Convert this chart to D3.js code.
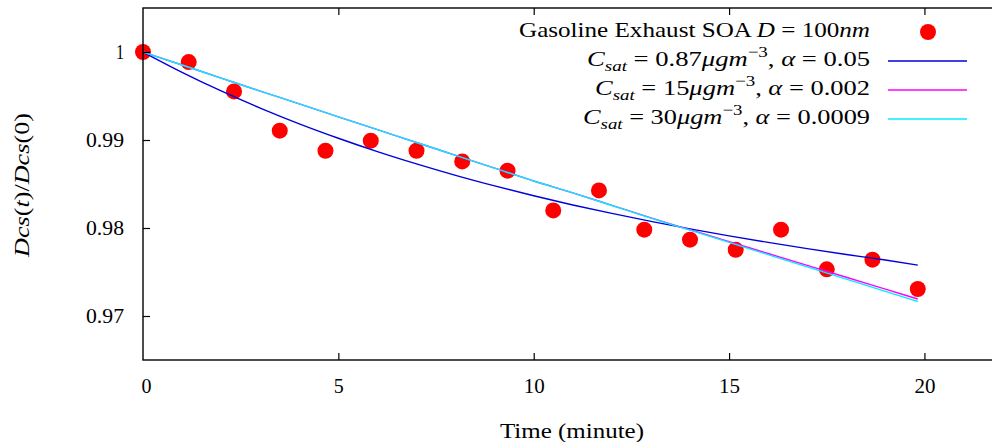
<!DOCTYPE html>
<html>
<head>
<meta charset="utf-8">
<script src="https://cdn.jsdelivr.net/npm/d3@7"></script>
<style>
  html, body { margin: 0; padding: 0; background: #fff; }
  svg { display: block; }
  text { font-family: "Liberation Serif", "DejaVu Serif", serif; fill: #000; }
</style>
</head>
<body>
<svg id="chart" width="992" height="442"></svg>
<script>
// ---- data ----
const obsTime = [0, 1.17, 2.33, 3.5, 4.67, 5.83, 7, 8.17, 9.33, 10.5, 11.67, 12.83, 14, 15.17, 16.33, 17.5, 18.67, 19.83];
const obsValue = [1.0, 0.99886, 0.99552, 0.99106, 0.98878, 0.98992, 0.98878, 0.98757, 0.98651, 0.9820, 0.98427, 0.97981, 0.97867, 0.97753, 0.97981, 0.97530, 0.97640, 0.97307];

const modelTime = [0, 1, 2, 3, 4, 5, 6, 7, 8, 9, 10, 11, 12, 13, 14, 15, 16, 17, 18, 19, 19.83];
const blueValue = [1.0, 0.99769, 0.99557, 0.99363, 0.99184, 0.99020, 0.98868, 0.98728, 0.98598, 0.98478, 0.98366, 0.98262, 0.98166, 0.98075, 0.97990, 0.97911, 0.97836, 0.97765, 0.97699, 0.97636, 0.97578];
const magentaValue = [1.0, 0.99852, 0.99704, 0.99556, 0.99410, 0.99263, 0.99117, 0.98972, 0.98826, 0.98680, 0.98534, 0.98400, 0.98258, 0.98115, 0.97980, 0.97845, 0.97710, 0.97575, 0.97440, 0.97305, 0.97193];
const cyanValue = [1.0, 0.99852, 0.99704, 0.99556, 0.99410, 0.99263, 0.99117, 0.98972, 0.98826, 0.98680, 0.98534, 0.98400, 0.98256, 0.98112, 0.97975, 0.97836, 0.97697, 0.97558, 0.97419, 0.97280, 0.97165];

const xTicks = [0, 5, 10, 15, 20];
const yTicks = [0.97, 0.98, 0.99, 1];
const xDomain = [0, 21.75];
const yDomain = [0.965, 1.005];

const xTitle = "Time (minute)";
const legendLabels = [
  "Gasoline Exhaust SOA D = 100nm",
  "C_sat = 0.87μgm^-3, α = 0.05",
  "C_sat = 15μgm^-3, α = 0.002",
  "C_sat = 30μgm^-3, α = 0.0009"
];
const seriesColors = ["#ff0000", "#0000dd", "#ff00ff", "#00eeff"];

// ---- layout ----
const svg = d3.select("#chart");
const L = 143, R = 992.8, T = 8, B = 360;
const x = d3.scaleLinear().domain(xDomain).range([L, R]);
const y = d3.scaleLinear().domain(yDomain).range([B, T]);
const FS = 21;

// markers
svg.append("g").selectAll("circle")
  .data(obsTime.map((t, i) => [t, obsValue[i]]))
  .join("circle")
  .attr("cx", d => x(d[0])).attr("cy", d => y(d[1]))
  .attr("r", 8).attr("fill", seriesColors[0]);

// model lines
const line = d3.line().x(d => x(d[0])).y(d => y(d[1])).curve(d3.curveMonotoneX);
[[blueValue, seriesColors[1]], [magentaValue, seriesColors[2]], [cyanValue, seriesColors[3]]].forEach(([vals, col]) => {
  svg.append("path")
    .datum(modelTime.map((t, i) => [t, vals[i]]))
    .attr("d", line).attr("fill", "none")
    .attr("stroke", col).attr("stroke-width", 1.4);
});

// frame
svg.append("rect").attr("x", L).attr("y", T).attr("width", R - L).attr("height", B - T)
  .attr("fill", "none").attr("stroke", "#000").attr("stroke-width", 1.4);

// axes (inward ticks)
const tickLen = 7;
const xAxisB = d3.axisBottom(x).tickValues(xTicks).tickSizeInner(-tickLen).tickSizeOuter(0).tickFormat(d3.format("d")).tickPadding(18);
const gxb = svg.append("g").attr("transform", `translate(0,${B})`).call(xAxisB);
const xAxisT = d3.axisTop(x).tickValues(xTicks).tickSizeInner(-tickLen).tickSizeOuter(0).tickFormat("");
const gxt = svg.append("g").attr("transform", `translate(0,${T})`).call(xAxisT);
const yAxisL = d3.axisLeft(y).tickValues(yTicks).tickSizeInner(-tickLen).tickSizeOuter(0)
  .tickFormat(d => d === 1 ? "1" : d3.format(".2f")(d)).tickPadding(19);
const gyl = svg.append("g").attr("transform", `translate(${L},0)`).call(yAxisL);
[gxb, gxt, gyl].forEach(g => {
  g.select(".domain").remove();
  g.selectAll("line").attr("stroke", "#000").attr("stroke-width", 1.2);
  g.selectAll("text").attr("font-family", "Liberation Serif, serif").attr("font-size", FS).attr("fill", "#000");
});
gxb.selectAll(".tick text").attr("dy", null).attr("y", 33);
gxb.selectAll(".tick").filter(d => d === 0).select("text").attr("dx", 3);
gyl.selectAll(".tick text").each(function () {
  const n = this.textContent.length;
  d3.select(this).attr("textLength", n === 1 ? 8 : 38).attr("lengthAdjust", "spacingAndGlyphs");
});
gxb.selectAll(".tick text").each(function () {
  const n = this.textContent.length;
  d3.select(this).attr("textLength", n === 1 ? 10 : 21).attr("lengthAdjust", "spacingAndGlyphs");
});
gxb.selectAll(".tick").filter(d => d === 0).select("line").remove();
gxt.selectAll(".tick").filter(d => d === 0).select("line").remove();

// x title
svg.append("text").attr("x", 572).attr("y", 438).attr("text-anchor", "middle")
  .attr("font-size", FS).attr("textLength", 144).attr("lengthAdjust", "spacingAndGlyphs").text(xTitle);

// y title (rotated, math italics)
const yt = svg.append("text").attr("transform", "translate(29,185) rotate(-90)")
  .attr("text-anchor", "middle").attr("font-size", FS)
  .attr("textLength", 144).attr("lengthAdjust", "spacingAndGlyphs");
[["Dcs", true], ["(", false], ["t", true], [")/", false], ["Dcs", true], ["(0)", false]].forEach(([s, it]) => {
  yt.append("tspan").attr("font-style", it ? "italic" : "normal").text(s);
});

// legend
const legX = 870, sampleX1 = 888, sampleX2 = 967, sampleMid = 928;
const rowBase = [37, 66, 95, 124];
const rowMid = [32, 61, 90, 119];
const rowWidth = [351, 283, 275, 287];

function mathText(g, label, yb, w) {
  const t = g.append("text").attr("x", legX - w).attr("y", yb).attr("font-size", FS)
    .attr("textLength", w).attr("lengthAdjust", "spacingAndGlyphs");
  if (label.startsWith("Gasoline")) {
    const m = label.match(/^(.*SOA )(D)( = 100)(nm)$/);
    t.append("tspan").text(m[1]);
    t.append("tspan").attr("font-style", "italic").text(m[2]);
    t.append("tspan").text(m[3]);
    t.append("tspan").attr("font-style", "italic").text(m[4]);
  } else {
    const m = label.match(/^C_sat = ([\d.]+)μgm\^-3, α = ([\d.]+)$/);
    t.append("tspan").attr("font-style", "italic").text("C");
    t.append("tspan").attr("font-style", "italic").attr("font-size", 15).attr("dy", 5).text("sat");
    t.append("tspan").attr("dy", -5).text(" = " + m[1]);
    t.append("tspan").attr("font-style", "italic").text("μgm");
    t.append("tspan").attr("font-size", 15).attr("dy", -9).text("−3");
    t.append("tspan").attr("dy", 9).text(", ");
    t.append("tspan").attr("font-style", "italic").text("α");
    t.append("tspan").text(" = " + m[2]);
  }
}
const lg = svg.append("g");
legendLabels.forEach((lab, i) => {
  mathText(lg, lab, rowBase[i], rowWidth[i]);
  if (i === 0) {
    lg.append("circle").attr("cx", sampleMid).attr("cy", rowMid[i]).attr("r", 8).attr("fill", seriesColors[0]);
  } else {
    lg.append("line").attr("x1", sampleX1).attr("x2", sampleX2).attr("y1", rowMid[i]).attr("y2", rowMid[i])
      .attr("stroke", seriesColors[i]).attr("stroke-width", 1.4);
  }
});
</script>
</body>
</html>
